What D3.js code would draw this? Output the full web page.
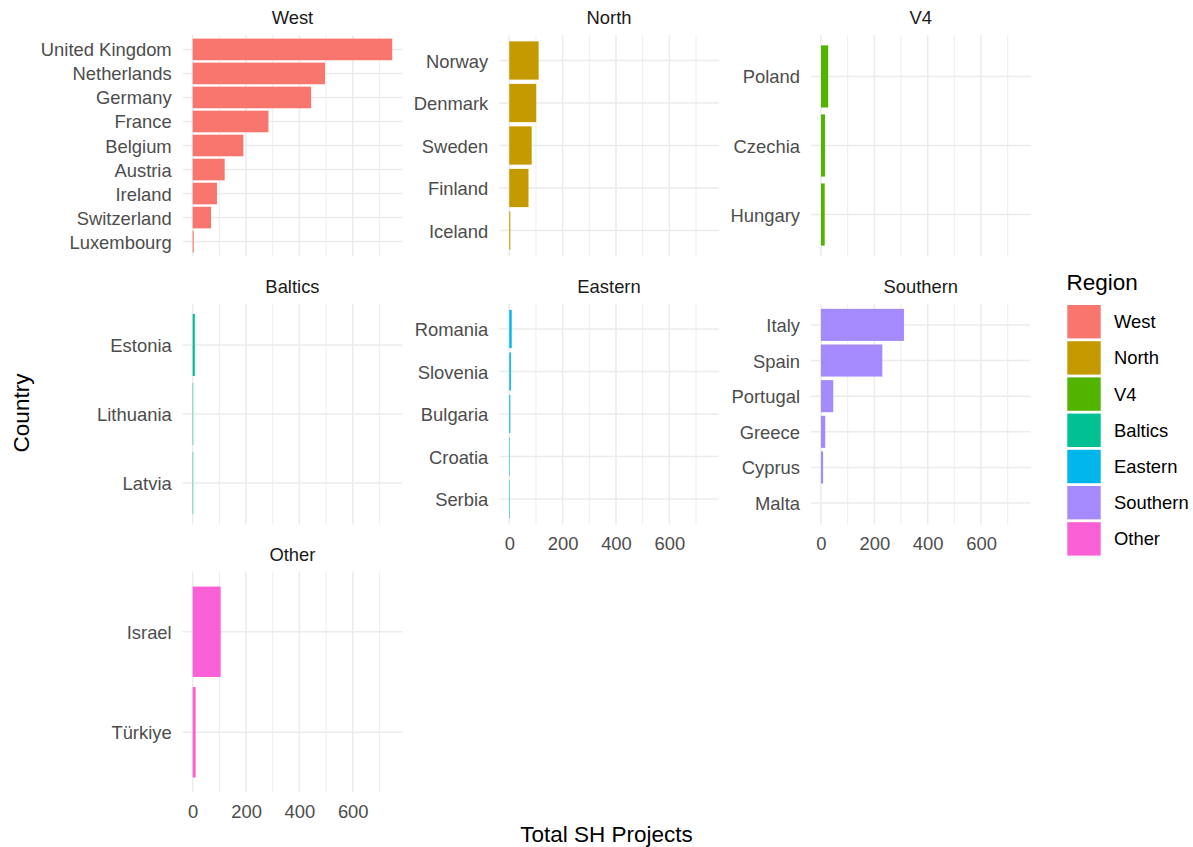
<!DOCTYPE html>
<html>
<head>
<meta charset="utf-8">
<script src="https://cdn.jsdelivr.net/npm/d3@7"></script>
<style>
  body { margin: 0; background: #fff; }
  text { font-family: "Liberation Sans", Arial, sans-serif; }
</style>
</head>
<body>
<svg id="chart" width="1193" height="847"></svg>
<script>
// regions in facet / legend order
const regions = ["West", "North", "V4", "Baltics", "Eastern", "Southern", "Other"];
const regionColors = ["#F8766D", "#C49A00", "#53B400", "#00C094", "#00B6EB", "#A58AFF", "#FB61D7"];

// countries listed top to bottom inside each facet
const countries = [
  "United Kingdom", "Netherlands", "Germany", "France", "Belgium", "Austria", "Ireland", "Switzerland", "Luxembourg",
  "Norway", "Denmark", "Sweden", "Finland", "Iceland",
  "Poland", "Czechia", "Hungary",
  "Estonia", "Lithuania", "Latvia",
  "Romania", "Slovenia", "Bulgaria", "Croatia", "Serbia",
  "Italy", "Spain", "Portugal", "Greece", "Cyprus", "Malta",
  "Israel", "Türkiye"
];
const countryRegion = [
  "West", "West", "West", "West", "West", "West", "West", "West", "West",
  "North", "North", "North", "North", "North",
  "V4", "V4", "V4",
  "Baltics", "Baltics", "Baltics",
  "Eastern", "Eastern", "Eastern", "Eastern", "Eastern",
  "Southern", "Southern", "Southern", "Southern", "Southern", "Southern",
  "Other", "Other"
];
const totalProjects = [
  748, 496, 444, 284, 190, 120, 91, 69, 4,
  110, 101, 84, 72, 4,
  27, 15, 14,
  8, 2, 2,
  9, 6, 4, 2, 2,
  311, 230, 46, 16, 8, 0,
  105, 11
];
const xTicks = [0, 200, 400, 600];
const xMinor = [100, 300, 500, 700];

const data = countries.map((c, i) => ({ country: c, region: countryRegion[i], value: totalProjects[i] }));

// facet layout (3 columns, free y)
const colLeft = [182.7, 499.3, 811];
const rowTop = [35, 303.5, 571.5];
const panelW = 219.5, panelH = 221;
const fs = 18.4;

const svg = d3.select("#chart");
const color = d3.scaleOrdinal(regions, regionColors);

const xMax = d3.max(totalProjects);

regions.forEach((reg, i) => {
  const row = Math.floor(i / 3), col = i % 3;
  const left = colLeft[col], top = rowTop[row];
  const rows = data.filter(d => d.region === reg);

  const x = d3.scaleLinear()
    .domain([-0.05 * xMax, 1.05 * xMax])
    .range([left, left + panelW]);
  const y = d3.scaleBand()
    .domain(rows.map(d => d.country))
    .range([top, top + panelH])
    .paddingInner(0.1)
    .paddingOuter(0.15);

  const g = svg.append("g");

  // grid
  g.selectAll(".minor").data(xMinor).join("line")
    .attr("x1", d => x(d)).attr("x2", d => x(d))
    .attr("y1", top).attr("y2", top + panelH)
    .attr("stroke", "#EBEBEB").attr("stroke-width", 0.9);
  g.selectAll(".major").data(xTicks).join("line")
    .attr("x1", d => x(d)).attr("x2", d => x(d))
    .attr("y1", top).attr("y2", top + panelH)
    .attr("stroke", "#EBEBEB").attr("stroke-width", 1.5);
  g.selectAll(".hgrid").data(rows).join("line")
    .attr("x1", left).attr("x2", left + panelW)
    .attr("y1", d => y(d.country) + y.bandwidth() / 2)
    .attr("y2", d => y(d.country) + y.bandwidth() / 2)
    .attr("stroke", "#EBEBEB").attr("stroke-width", 1.5);

  // bars
  g.selectAll("rect").data(rows).join("rect")
    .attr("x", x(0))
    .attr("y", d => y(d.country))
    .attr("width", d => x(d.value) - x(0))
    .attr("height", y.bandwidth())
    .attr("fill", color(reg));

  // strip title
  g.append("text")
    .attr("x", left + panelW / 2).attr("y", top - 10.8)
    .attr("text-anchor", "middle")
    .attr("font-size", fs).attr("fill", "#1A1A1A")
    .text(reg);

  // y axis labels
  const ya = g.append("g")
    .attr("transform", `translate(${left},0)`)
    .call(d3.axisLeft(y).tickSize(0).tickPadding(11));
  ya.select(".domain").remove();
  ya.selectAll("text").attr("font-size", fs).attr("fill", "#4D4D4D")
    .attr("dy", "0.38em")
    .attr("font-family", "Liberation Sans, Arial, sans-serif");

  // x axis labels only on the bottom panel of each column
  if (i + 3 >= regions.length) {
    const xa = g.append("g")
      .attr("transform", `translate(0,${top + panelH})`)
      .call(d3.axisBottom(x).tickValues(xTicks).tickSize(0).tickPadding(12));
    xa.select(".domain").remove();
    xa.selectAll("text").attr("font-size", fs).attr("fill", "#4D4D4D")
      .attr("font-family", "Liberation Sans, Arial, sans-serif");
  }
});

// axis titles
svg.append("text")
  .attr("x", (colLeft[0] + colLeft[2] + panelW) / 2).attr("y", 841.5)
  .attr("text-anchor", "middle").attr("font-size", 22.5).attr("fill", "#000")
  .text("Total SH Projects");
svg.append("text")
  .attr("transform", "translate(28.5,413) rotate(-90)")
  .attr("text-anchor", "middle").attr("font-size", 22.5).attr("fill", "#000")
  .text("Country");

// legend
const legend = svg.append("g");
legend.append("text")
  .attr("x", 1066.5).attr("y", 289.5)
  .attr("font-size", 22.5).attr("fill", "#000")
  .text("Region");
const keys = legend.selectAll(".key").data(regions).join("g")
  .attr("transform", (d, i) => `translate(1067.3,${305 + i * 36.2})`);
keys.append("rect")
  .attr("width", 33.4).attr("height", 33.4)
  .attr("fill", d => color(d));
keys.append("text")
  .attr("x", 46.7).attr("y", 16.7)
  .attr("dy", "0.35em")
  .attr("font-size", fs).attr("fill", "#000")
  .text(d => d);
</script>
</body>
</html>
